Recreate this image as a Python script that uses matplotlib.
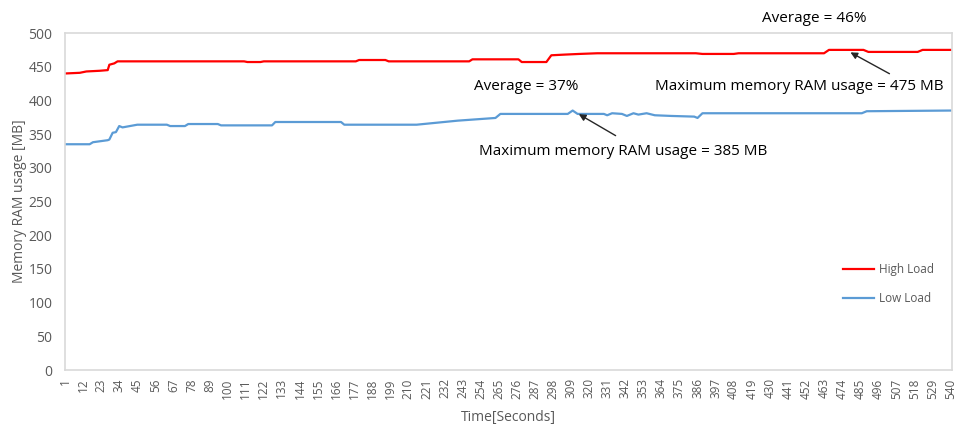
import matplotlib

matplotlib.use("Agg")
import matplotlib.pyplot as plt

# Memory use over the run, one breakpoint per visible change
high_t = [1, 10, 14, 22, 27, 28, 31, 33, 110, 112, 120, 122, 178, 180, 196, 198,
          247, 249, 277, 279, 294, 297, 305, 314, 325, 385, 389, 408, 411, 463,
          466, 487, 490, 520, 523, 540]
high_mb = [440, 441, 443, 444, 445, 453, 455, 458, 458, 457, 457, 458, 458, 460, 460, 458,
           458, 461, 461, 457, 457, 467, 468, 469, 470, 470, 469, 469, 470, 470,
           475, 475, 472, 472, 475, 475]

low_t = [1, 16, 18, 27, 28, 30, 32, 34, 36, 45, 63, 65, 74, 76, 94, 96, 127, 129,
         169, 171, 215, 240, 263, 266, 307, 310, 313, 329, 331, 334, 340, 343, 347,
         350, 355, 360, 370, 384, 386, 389, 486, 489, 540]
low_mb = [335, 335, 338, 341, 342, 352, 353, 362, 360, 364, 364, 362, 362, 365, 365, 363, 363, 368,
          368, 364, 364, 370, 374, 380, 380, 385, 380, 380, 378, 381, 380, 377, 381,
          379, 381, 378, 377, 376, 374, 381, 381, 384, 385]

x_ticks = list(range(1, 541, 11))
y_ticks = list(range(0, 501, 50))

GREY = "#595959"
FONT = ["Open Sans", "DejaVu Sans"]
plt.rcParams["font.family"] = FONT

fig = plt.figure(figsize=(9.56, 4.32), dpi=100)
ax = fig.add_axes([0.068, 0.1435, 0.928, 0.78])

ax.plot(high_t, high_mb, color="#FF0000", lw=1.6, label="High Load")
ax.plot(low_t, low_mb, color="#5B9BD5", lw=1.6, label="Low Load")

ax.set_xlim(1, 541)
ax.set_ylim(0, 500)
ax.set_xticks(x_ticks)
ax.set_xticklabels([str(t) for t in x_ticks], rotation=90, fontsize=8.5, color=GREY)
ax.set_yticks(y_ticks)
ax.set_yticklabels([str(v) for v in y_ticks], fontsize=10, color=GREY)
ax.tick_params(axis="both", length=0)
ax.tick_params(axis="y", pad=9)
ax.tick_params(axis="x", pad=6)
for sp in ax.spines.values():
    sp.set_color("#D9D9D9")
    sp.set_linewidth(1.2)

ax.set_ylabel("Memory RAM usage [MB]", fontsize=10, color=GREY, labelpad=1)
ax.set_xlabel("Time[Seconds]", fontsize=10, color=GREY, labelpad=8)

# annotations for the two series
ax.text(457, 521, "Average = 46%", fontsize=11, ha="center", va="center")
ax.text(448, 420, "Maximum memory RAM usage = 475 MB", fontsize=11, ha="center", va="center")
ax.annotate("", xy=(477.6, 473.3), xytext=(504.3, 437.7),
            arrowprops=dict(arrowstyle="-|>", color="#262626", lw=1, mutation_scale=10))

ax.text(282, 420, "Average = 37%", fontsize=11, ha="center", va="center")
ax.text(341, 323.5, "Maximum memory RAM usage = 385 MB", fontsize=11, ha="center", va="center")
ax.annotate("", xy=(312.3, 381.7), xytext=(337.6, 345.7),
            arrowprops=dict(arrowstyle="-|>", color="#262626", lw=1, mutation_scale=10))

leg = ax.legend(loc="center", bbox_to_anchor=(0.928, 0.255), frameon=False,
                fontsize=8.5, handlelength=2.6, labelspacing=1.4, handletextpad=0.4)
for txt in leg.get_texts():
    txt.set_color(GREY)

fig.savefig("out.png", dpi=100)
